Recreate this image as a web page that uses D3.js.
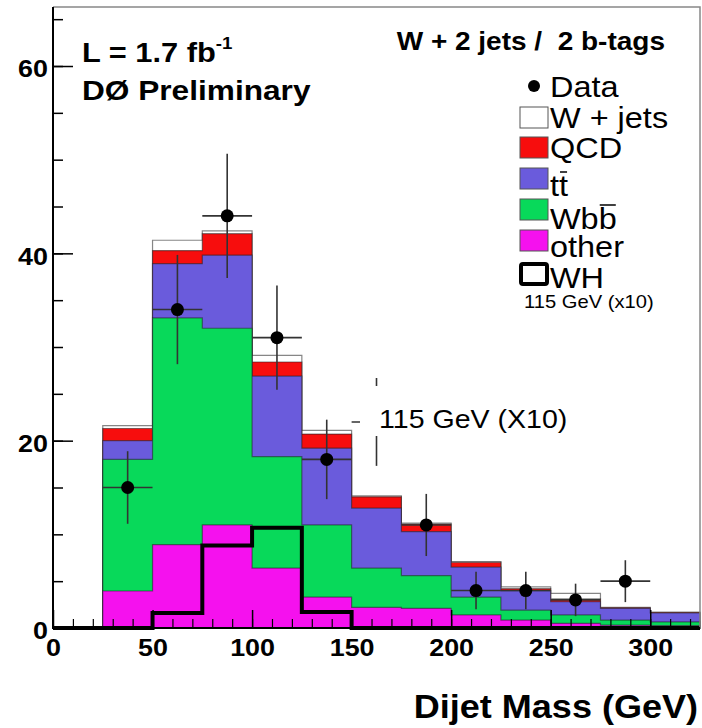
<!DOCTYPE html>
<html>
<head>
<meta charset="utf-8">
<script src="https://cdn.jsdelivr.net/npm/d3@7"></script>
<style>
  body { margin: 0; background: #fff; }
  svg { display: block; font-family: "Liberation Sans", Arial, sans-serif; }
</style>
</head>
<body>
<div id="chart"></div>
<script>
// Bin lower edges (GeV), each bin is 25 GeV wide
const binStart = [25, 50, 75, 100, 125, 150, 175, 200, 225, 250, 275, 300];
const binWidth = 25;

// Stacked background contributions per bin (events)
const other = [3.95, 8.9, 11.0, 6.4, 3.3, 2.2, 2.1, 1.4, 0.85, 0.5, 0.3, 0.25];
const wbb   = [14.05, 24.2, 21.0, 11.9, 7.7, 4.2, 3.5, 1.9, 1.05, 0.9, 0.55, 0.4];
const ttbar = [2.0, 5.8, 7.8, 8.6, 8.2, 6.4, 4.7, 3.2, 2.1, 1.4, 1.25, 0.95];
const qcd   = [1.3, 1.4, 2.3, 1.5, 1.5, 1.2, 0.8, 0.5, 0.2, 0.3, 0.05, 0.05];
const wjets = [0.3, 1.1, 0.3, 0.7, 0.4, 0.1, 0.1, 0.1, 0.2, 0.6, 0.05, 0.05];

// WH signal, 115 GeV, scaled x10
const whStart = [0, 25, 50, 75, 100, 125, 150, 175, 200, 225, 250, 275, 300];
const whValue = [0, 0, 1.6, 8.8, 10.7, 1.7, 0, 0, 0, 0, 0, 0, 0];

// Observed data (bin centres)
const dataMass  = [37.5, 62.5, 87.5, 112.5, 137.5, 162.5, 187.5, 212.5, 237.5, 262.5, 287.5];
const dataCount = [15, 34, 44, 31, 18, 22, 11, 4, 4, 3, 5];

const width = 702, height = 728;
const plot = {left: 53, right: 700, top: 7, bottom: 628};
const stretch = 1.12;  // the original lettering is a bit wide

const x = d3.scaleLinear().domain([0, 325]).range([plot.left, plot.right]);
const y = d3.scaleLinear().domain([0, 66.3]).range([plot.bottom, plot.top]);

const keys = ["other", "wbb", "tt", "qcd", "wjets"];
const colors = {other: "#f511ee", wbb: "#08d95a", tt: "#6a5bdc", qcd: "#f70d0d", wjets: "#ffffff"};

const rows = binStart.map((b, i) => ({
    bin: b, other: other[i], wbb: wbb[i], tt: ttbar[i], qcd: qcd[i], wjets: wjets[i]
}));
const stacked = d3.stack().keys(keys)(rows);

const svg = d3.select("#chart").append("svg")
    .attr("width", width)
    .attr("height", height);

// widen a text horizontally around its anchor point
function widen(sel, s = stretch) {
    sel.each(function() {
        const t = d3.select(this);
        const tx = +t.attr("x") || 0;
        t.attr("transform", `translate(${tx},0) scale(${s},1) translate(${-tx},0)`);
    });
}

// step histogram outline from lower edges + heights
function stepPoints(starts, values, w) {
    const pts = [[starts[0], 0]];
    starts.forEach((s, i) => {
        pts.push([s, values[i]]);
        pts.push([s + w, values[i]]);
    });
    pts.push([starts[starts.length - 1] + w, 0]);
    return pts;
}
const line = d3.line().x(d => x(d[0])).y(d => y(d[1]));

// draw stack: tallest first, then smaller ones on top (like THStack)
const stackG = svg.append("g");
for (let k = stacked.length - 1; k >= 0; k--) {
    const layer = stacked[k];
    const tops = layer.map(d => d[1]);
    stackG.append("path")
        .attr("d", line(stepPoints(binStart, tops, binWidth)) + "Z")
        .attr("fill", colors[layer.key])
        .attr("stroke", "#222")
        .attr("stroke-opacity", 0.55)
        .attr("stroke-width", 1.2);
}

// WH signal line
svg.append("path")
    .attr("d", line(stepPoints(whStart, whValue, binWidth)))
    .attr("fill", "none")
    .attr("stroke", "#000")
    .attr("stroke-width", 4);

// data points with errors
const dataG = svg.append("g");
dataMass.forEach((m, i) => {
    const n = dataCount[i];
    const err = Math.sqrt(n);
    dataG.append("line")
        .attr("x1", x(m)).attr("x2", x(m))
        .attr("y1", y(n - err)).attr("y2", y(n + err))
        .attr("stroke", "#333").attr("stroke-width", 1.6);
    dataG.append("line")
        .attr("x1", x(m - binWidth / 2)).attr("x2", x(m + binWidth / 2))
        .attr("y1", y(n)).attr("y2", y(n))
        .attr("stroke", "#333").attr("stroke-width", 1.6);
    dataG.append("circle")
        .attr("cx", x(m)).attr("cy", y(n)).attr("r", 6.5)
        .attr("fill", "#000");
});

// axes (ticks drawn inside the frame)
const tickFont = g => g.selectAll("text")
    .attr("font-size", 24).attr("font-weight", "bold").attr("fill", "#000");

svg.append("g")
    .attr("transform", `translate(${plot.left},0)`)
    .call(d3.axisLeft(y).tickValues(d3.range(5, 66, 5)).tickSize(-10).tickFormat(""))
    .call(g => g.select(".domain").remove())
    .call(g => g.selectAll("line").attr("stroke", "#000").attr("stroke-width", 1.5));

svg.append("g")
    .attr("transform", `translate(${plot.left},0)`)
    .call(d3.axisLeft(y).tickValues([0, 20, 40, 60]).tickSize(-20).tickPadding(5))
    .call(g => g.select(".domain").remove())
    .call(g => g.selectAll("line").attr("stroke", "#000").attr("stroke-width", 1.5))
    .call(tickFont)
    .call(g => g.selectAll("text").attr("dy", "0.45em").call(widen));

svg.append("g")
    .attr("transform", `translate(0,${plot.bottom})`)
    .call(d3.axisBottom(x).tickValues(d3.range(10, 325, 10)).tickSize(-9).tickFormat(""))
    .call(g => g.select(".domain").remove())
    .call(g => g.selectAll("line").attr("stroke", "#000").attr("stroke-width", 1.2));

svg.append("g")
    .attr("transform", `translate(0,${plot.bottom})`)
    .call(d3.axisBottom(x).tickValues([0, 50, 100, 150, 200, 250, 300]).tickSize(-18).tickPadding(11))
    .call(g => g.select(".domain").remove())
    .call(g => g.selectAll("line").attr("stroke", "#000").attr("stroke-width", 1.5))
    .call(tickFont)
    .call(g => g.selectAll("text").call(widen));

// frame
svg.append("path")
    .attr("d", `M${plot.left},${plot.top}H${plot.right}V${plot.bottom}`)
    .attr("fill", "none").attr("stroke", "#888").attr("stroke-width", 1.5);
svg.append("path")
    .attr("d", `M${plot.left},${plot.top}V${plot.bottom}H${plot.right}`)
    .attr("fill", "none").attr("stroke", "#000").attr("stroke-width", 2);

// overlay label with white box (covers a data point, as in the original)
svg.append("rect")
    .attr("x", 360).attr("y", 386).attr("width", 225).attr("height", 50)
    .attr("fill", "#fff");
svg.append("text")
    .attr("x", 379).attr("y", 428)
    .attr("font-size", 25.5)
    .text("115 GeV (X10)")
    .call(widen);

// top-left annotations
const lumi = svg.append("text")
    .attr("x", 82).attr("y", 62)
    .attr("font-size", 28).attr("font-weight", "bold");
lumi.append("tspan").text("L = 1.7 fb");
lumi.append("tspan").attr("dy", -13).attr("font-size", 17).text("-1");
lumi.call(widen, 1.1);

svg.append("text")
    .attr("x", 82).attr("y", 100)
    .attr("font-size", 28).attr("font-weight", "bold")
    .text("DØ Preliminary")
    .call(widen, 1.13);

svg.append("text")
    .attr("x", 665).attr("y", 50)
    .attr("text-anchor", "end")
    .attr("font-size", 25).attr("font-weight", "bold")
    .attr("xml:space", "preserve")
    .text("W + 2 jets /  2 b-tags")
    .call(widen);

// legend
const legendRows = [
    {label: "W + jets", fill: colors.wjets, boxTop: 107, base: 128},
    {label: "QCD", fill: colors.qcd, boxTop: 137, base: 158},
    {label: "tt", fill: colors.tt, boxTop: 168, base: 196, bar: 1},
    {label: "Wbb", fill: colors.wbb, boxTop: 199, base: 229, bar: 2},
    {label: "other", fill: colors.other, boxTop: 230, base: 257},
];
const lg = svg.append("g");
lg.append("circle").attr("cx", 534).attr("cy", 86).attr("r", 6).attr("fill", "#000");
lg.append("text").attr("x", 550).attr("y", 97).attr("font-size", 29).text("Data").call(widen);

legendRows.forEach(r => {
    lg.append("rect")
        .attr("x", 520).attr("y", r.boxTop).attr("width", 28).attr("height", 21)
        .attr("fill", r.fill).attr("stroke", "#555").attr("stroke-width", 1);
    const t = lg.append("text").attr("x", 550).attr("y", r.base)
        .attr("font-size", 29).text(r.label);
    if (r.bar !== undefined) {
        const node = t.node();
        const a = 550 + (node.getStartPositionOfChar(r.bar).x - 550) * stretch;
        const b = 550 + (node.getEndPositionOfChar(r.bar).x - 550) * stretch;
        lg.append("line")
            .attr("x1", a + 1).attr("x2", b - 1)
            .attr("y1", r.base - 24).attr("y2", r.base - 24)
            .attr("stroke", "#000").attr("stroke-width", 1.5);
    }
    t.call(widen);
});

lg.append("rect")
    .attr("x", 521).attr("y", 264).attr("width", 26).attr("height", 20)
    .attr("fill", "#fff").attr("stroke", "#000").attr("stroke-width", 4).attr("rx", 2);
lg.append("text").attr("x", 550).attr("y", 288).attr("font-size", 29).text("WH").call(widen);
lg.append("text").attr("x", 524).attr("y", 308).attr("font-size", 18).text("115 GeV (x10)").call(widen);

// x-axis title
svg.append("text")
    .attr("x", 698).attr("y", 718)
    .attr("text-anchor", "end")
    .attr("font-size", 34).attr("font-weight", "bold")
    .text("Dijet Mass (GeV)")
    .call(widen, 1.06);
</script>
</body>
</html>
